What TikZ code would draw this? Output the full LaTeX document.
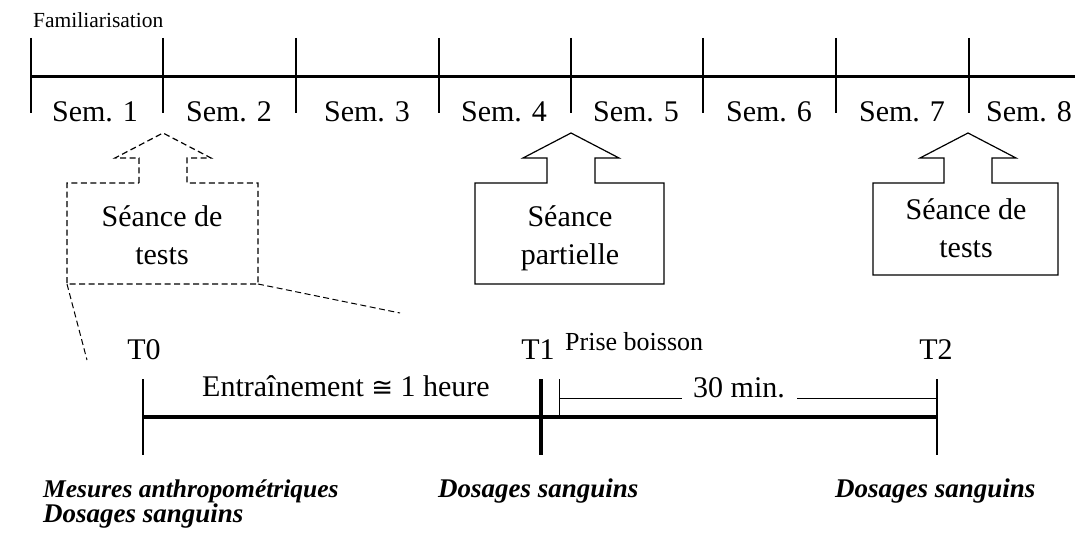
\documentclass[tikz,border=0pt]{standalone}
\usepackage{fontspec}
\setmainfont{Liberation Serif}
\newfontfamily\symfnt{DejaVu Sans}
\begin{document}
\begin{tikzpicture}[x=1pt,y=-1pt,
  mainline/.style={line width=3pt},
  tickline/.style={line width=2.4pt},
  thinline/.style={line width=1pt},
  blockarrow/.style={draw, line width=1.2pt, line join=miter},
  dashedarrow/.style={blockarrow, dash pattern=on 6pt off 3.5pt},
  zoomline/.style={line width=1pt, dash pattern=on 6pt off 3.5pt},
  big/.style={inner sep=0pt, anchor=base, font=\fontsize{30}{34}\selectfont},
  mid/.style={inner sep=0pt, anchor=base, font=\fontsize{26}{30}\selectfont},
  small/.style={inner sep=0pt, anchor=base west, font=\fontsize{21.5}{25}\selectfont},
  result/.style={inner sep=0pt, anchor=base west, font=\fontsize{27}{31}\selectfont\bfseries\itshape}]
\useasboundingbox (0,0) rectangle (1075,537);
\fill[white] (0,0) rectangle (1075,537);

% ---------- top timeline ----------
\coordinate (topL) at (31,77);
\coordinate (topR) at (1075,77);
\draw[mainline] (topL) -- (topR);
\foreach \x [count=\i] in {31,163,296,439,571,703,836,969} {
  \coordinate (k\i t) at (\x,38);
  \coordinate (k\i b) at (\x,113);
  \draw[tickline] (k\i t) -- (k\i b);
}
\foreach \x/\n in {95/1,229/2,367/3,504/4,636/5,769/6,902/7,1029/8}
  \node[big] (sem\n) at (\x,122) {Sem. \n};
\node[small] (fam) at (33,28) {Familiarisation};

% ---------- block arrows ----------
\draw[dashedarrow] (139,183) -- (139,158) -- (115,158) -- (163,133) -- (211,158)
  -- (187,158) -- (187,183) -- (258,183) -- (258,284) -- (67,284) -- (67,183) -- cycle;
\node[big] (b1a) at (162,227) {Séance de};
\node[big] (b1b) at (162,265) {tests};

\draw[blockarrow] (547,183) -- (547,158) -- (523,158) -- (571,133) -- (619,158)
  -- (595,158) -- (595,183) -- (664,183) -- (664,284) -- (475,284) -- (475,183) -- cycle;
\node[big] (b2a) at (570,227) {Séance};
\node[big] (b2b) at (570,265) {partielle};

\draw[blockarrow] (944,183) -- (944,158) -- (920,158) -- (968,133) -- (1016,158)
  -- (992,158) -- (992,183) -- (1058,183) -- (1058,275) -- (873,275) -- (873,183) -- cycle;
\node[big] (b3a) at (966,220) {Séance de};
\node[big] (b3b) at (966,257) {tests};

% ---------- zoom lines ----------
\coordinate (zl0) at (67,284);
\coordinate (zl1) at (87,360);
\coordinate (zr0) at (258,284);
\coordinate (zr1) at (400,313);
\draw[zoomline] (zl0) -- (zl1);
\draw[zoomline] (zr0) -- (zr1);

% ---------- bottom timeline ----------
\coordinate (T0t) at (143,379); \coordinate (T0m) at (143,417); \coordinate (T0b) at (143,455);
\coordinate (T1t) at (541,379); \coordinate (T1b) at (541,455);
\coordinate (T2t) at (937,379); \coordinate (T2m) at (937,417); \coordinate (T2b) at (937,455);
\coordinate (Pt) at (559,379); \coordinate (Pm) at (559,417);
\coordinate (Pa) at (559,398); \coordinate (Pb) at (682,398);
\coordinate (Qa) at (797,398); \coordinate (Qb) at (937,398);

\draw[line width=3.2pt] (T0m) -- (T2m);
\draw[tickline] (T0t) -- (T0b);
\draw[line width=3.2pt] (T1t) -- (T1b);
\draw[tickline] (T2t) -- (T2b);
\draw[thinline] (Pt) -- (Pm);
\draw[thinline] (Pa) -- (Pb);
\draw[thinline] (Qa) -- (Qb);

\node[big] (t0) at (144,359) {T0};
\node[big] (t1) at (538,359) {T1};
\node[big] (t2) at (936,359) {T2};
\node[mid, anchor=base west] (prise) at (565,350) {Prise boisson};
\node[big] (entr) at (346,396) {Entraînement {\symfnt\fontsize{26}{30}\selectfont ≅} 1 heure};
\node[big] (min) at (739,397) {30 min.};

\node[result, font=\fontsize{25.5}{30}\selectfont\bfseries\itshape] (mes) at (43,497) {Mesures anthropométriques};
\node[result] (dos0) at (43,522) {Dosages sanguins};
\node[result] (dos1) at (438,497) {Dosages sanguins};
\node[result] (dos2) at (835,497) {Dosages sanguins};
\end{tikzpicture}
\end{document}
